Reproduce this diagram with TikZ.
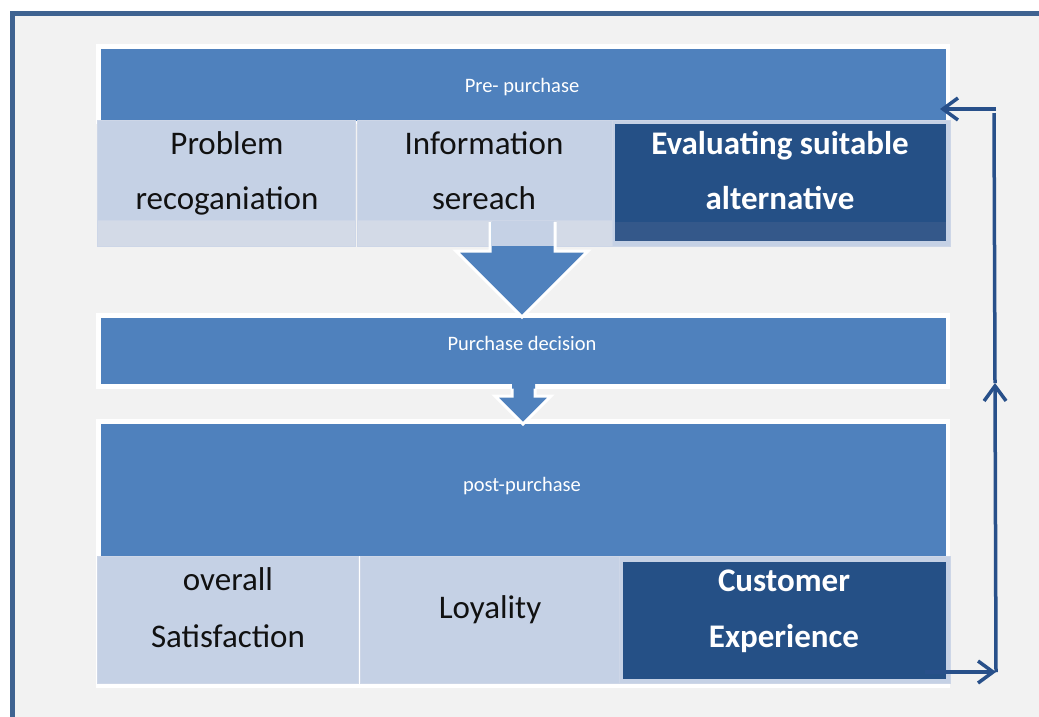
\documentclass[tikz,border=0pt]{standalone}
\usepackage{fontspec}
\setmainfont{Carlito}
\usetikzlibrary{arrows.meta}
\definecolor{bandblue}{HTML}{4F81BD}
\definecolor{lightcell}{HTML}{C5D1E5}
\definecolor{lightstrip}{HTML}{D3DAE7}
\definecolor{celledge}{HTML}{CDD6E7}
\definecolor{darkcell}{HTML}{255086}
\definecolor{darkstrip}{HTML}{34588A}
\definecolor{framecol}{HTML}{3F6391}
\definecolor{bgcol}{HTML}{F2F2F2}
\definecolor{loopcol}{HTML}{28508A}
\definecolor{txtdark}{HTML}{111111}
\tikzset{
  box/.style={rectangle, inner sep=0pt, outer sep=0pt, anchor=north west},
  band/.style={box, fill=bandblue},
  lcell/.style={box, fill=lightcell, draw=celledge, line width=1pt},
  dcell/.style={box, fill=darkcell},
  smalltxt/.style={text=white, font=\fontsize{20.5}{24}\selectfont, inner sep=0pt},
  bigtxt/.style={text=txtdark, font=\fontsize{33}{40}\selectfont, inner sep=0pt, anchor=base},
  bigwhite/.style={text=white, font=\fontsize{33}{40}\selectfont\bfseries, inner sep=0pt, anchor=base},
  blockarrow/.style={fill=bandblue},
  blockedge/.style={draw=white, line width=3pt, line join=miter},
  loopline/.style={draw=loopcol, line width=3.5pt},
  looparrow/.style={loopline, -{Straight Barb[length=15pt,width=22pt,line width=3.5pt]}}
}
\begin{document}
\begin{tikzpicture}[x=1pt,y=-1pt]
\useasboundingbox (0,0) rectangle (1039,716);
\clip (0,0) rectangle (1039,716);
\fill[white] (0,0) rectangle (1039,716);
% frame
\draw[draw=framecol, fill=bgcol, line width=4.5pt] (12.5,13.5) rectangle (1080,760);

% ---------- pre-purchase group ----------
\fill[white] (96,44) rectangle (950,124);
\node[band, minimum width=845pt, minimum height=72pt] (pre) at (101,49) {};
\node[smalltxt] (pretxt) at (522,87) {Pre- purchase};
% light cells
\node[lcell, minimum width=338pt, minimum height=126pt] (c3bg) at (612,120) {};
\node[lcell, minimum width=258pt, minimum height=100pt] (c1) at (97,120) {};
\node[lcell, minimum width=255pt, minimum height=100pt] (c2) at (357,120) {};
\node[box, fill=lightstrip, draw=celledge, line width=1pt, minimum width=258pt, minimum height=26pt] (s1) at (97,220) {};
\node[box, fill=lightstrip, draw=celledge, line width=1pt, minimum width=255pt, minimum height=26pt] (s2) at (357,220) {};
\node[dcell, minimum width=331pt, minimum height=98pt] (c3) at (615,124) {};
\node[box, fill=darkstrip, minimum width=331pt, minimum height=19pt] (c3s) at (615,222) {};
\node[bigtxt] (t1a) at (227,154) {Problem};
\node[bigtxt] (t1b) at (227,209) {recoganiation};
\node[bigtxt] (t2a) at (484,154) {Information};
\node[bigtxt] (t2b) at (484,209) {sereach};
\node[bigwhite] (t3a) at (780,154) {Evaluating suitable};
\node[bigwhite] (t3b) at (780,209) {alternative};

% ---------- purchase decision ----------
\fill[white] (96,313) rectangle (950,389);
\node[band, minimum width=845pt, minimum height=66pt] (dec) at (101,318) {};
\node[smalltxt] (dectxt) at (522,343) {Purchase decision};

% big block arrow pre -> decision
\coordinate (bA) at (490,222);
\coordinate (bB) at (555,222);
\coordinate (bTip) at (522,317);
\fill[blockarrow] (bA) -- (bB) -- (555,251) -- (588,251) -- (bTip) -- (456,251) -- (490,251) -- cycle;
\fill[lightcell] (491.5,221) rectangle (553.5,246);
\draw[blockedge] (bA) -- (490,251) -- (456,251) -- (bTip) -- (588,251) -- (555,251) -- (bB);

% ---------- post-purchase group ----------
\fill[white] (96,419) rectangle (950,688);
\node[band, minimum width=845pt, minimum height=132pt] (post) at (101,424) {};
\node[smalltxt] (posttxt) at (522,486) {post-purchase};
\node[lcell, minimum width=261pt, minimum height=127pt] (d1) at (97,556) {};
\node[lcell, minimum width=259pt, minimum height=127pt] (d2) at (360,556) {};
\node[lcell, minimum width=331pt, minimum height=127pt] (d3bg) at (619,556) {};
\node[dcell, minimum width=323pt, minimum height=117pt] (d3) at (623,562) {};
\node[bigtxt] (u1a) at (228,590) {overall};
\node[bigtxt] (u1b) at (228,647) {Satisfaction};
\node[bigtxt] (u2) at (490,618) {Loyality};
\node[bigwhite] (u3a) at (784,591) {Customer};
\node[bigwhite] (u3b) at (784,647) {Experience};

% small block arrow decision -> post
\coordinate (sA) at (512,384);
\coordinate (sB) at (535,384);
\coordinate (sTip) at (523,424);
\fill[blockarrow] (sA) -- (sB) -- (535,396) -- (551,396) -- (sTip) -- (495,396) -- (512,396) -- cycle;
\draw[blockedge] (512,388.5) -- (512,396) -- (495,396) -- (sTip) -- (551,396) -- (535,396) -- (535,388.5);

% ---------- feedback loop ----------
\coordinate (ceOut) at (925,672);
\coordinate (loopBR) at (996,672);
\coordinate (loopMid) at (995,383);
\coordinate (loopTop) at (994,113);
\coordinate (loopTR) at (996,109);
\coordinate (preIn) at (940,109);
\draw[looparrow] (ceOut) -- (loopBR);
\draw[looparrow] (loopBR) -- (loopMid);
\draw[loopline] (loopMid) -- (loopTop);
\draw[looparrow] (loopTR) -- (preIn);
\end{tikzpicture}
\end{document}
